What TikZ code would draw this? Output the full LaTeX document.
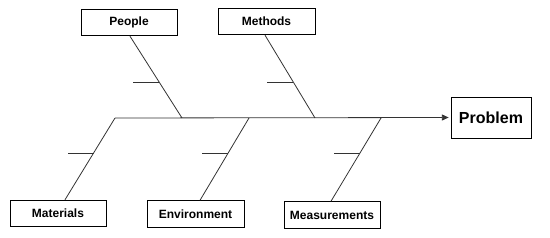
\documentclass[tikz,border=0pt]{standalone}
\usepackage{fontspec}
\setmainfont{Liberation Sans}
\usepackage{xcolor}
\definecolor{Ink}{HTML}{000000}
\definecolor{Bone}{HTML}{333333}
\usetikzlibrary{arrows.meta,calc}
\tikzset{
  cause/.style={draw=Ink,fill=white,minimum width=72pt,minimum height=20pt,
    inner sep=1pt,text=Ink,font=\fontsize{9}{11}\selectfont\bfseries,line width=.6pt},
  effect/.style={cause,minimum width=60pt,minimum height=30.75pt,
    font=\fontsize{12}{14}\selectfont\bfseries},
  bone/.style={draw=Bone,line width=.6pt},
  spine/.style={bone,-{Triangle[length=5pt,width=4.5pt]},shorten >=1.5pt}
}

\begin{document}
\begin{tikzpicture}[x=.75pt,y=-.75pt]
\useasboundingbox (0,0) rectangle (550,238);
% boxes
\node[cause] (peo) at (129,22.5) {People};
\node[cause,minimum width=72.75pt] (met) at (266.5,21.5) {Methods};
\node[effect] (prob) at (491,117.5) {Problem};
\node[cause] (mat) at (58,213.5) {Materials};
\node[cause,minimum width=72.75pt] (env) at (195.5,214) {Environment};
\node[cause] (meas) at (332,215) {Measurements};
% spine
\coordinate (tail) at (115,118);
\coordinate (jpeo) at (182,118);
\coordinate (jmet) at (315,118);
\coordinate (jenv) at (249,118);
\coordinate (jmeas) at (381,118);
\draw[spine] (tail) -- (prob.west);
% bones
\draw[bone] ([xshift=.75pt]peo.south) -- coordinate[pos=.561] (kpeo) (jpeo);
\draw[bone] ([xshift=-1.1pt]met.south) -- coordinate[pos=.566] (kmet) (jmet);
\draw[bone] ([xshift=5.25pt]mat.north) -- coordinate[pos=.573] (kmat) (tail);
\draw[bone] ([xshift=3.4pt]env.north) -- coordinate[pos=.573] (kenv) (jenv);
\draw[bone] ([xshift=-.75pt]meas.north) -- coordinate[pos=.573] (kmeas) (jmeas);
% ticks
\foreach \k in {kpeo,kmet,kmat,kenv,kmeas}
  \draw[bone] (\k) -- ++(-26,0);
\end{tikzpicture}
\end{document}
